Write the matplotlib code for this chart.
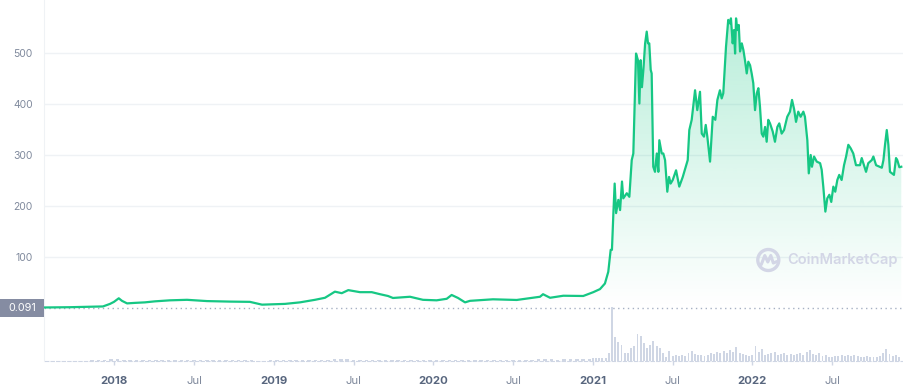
import numpy as np
import matplotlib.pyplot as plt
from matplotlib.patches import Rectangle, Circle, Polygon
from matplotlib.lines import Line2D
from matplotlib.transforms import blended_transform_factory

plt.rcParams['font.family'] = ['Inter', 'DejaVu Sans']

# price, x in decimal years
price_t = [2017.566, 2017.72, 2017.929, 2017.973, 2017.998, 2018.028, 2018.048, 2018.080,
           2018.130, 2018.192, 2018.255, 2018.349, 2018.456, 2018.581, 2018.725, 2018.850,
           2018.926, 2019.070, 2019.164, 2019.258, 2019.321, 2019.383, 2019.426, 2019.467,
           2019.540, 2019.614, 2019.666, 2019.716, 2019.747, 2019.854, 2019.935, 2020.021,
           2020.084, 2020.115, 2020.155, 2020.199, 2020.230, 2020.374, 2020.523, 2020.669,
           2020.688, 2020.732, 2020.815, 2020.940, 2021.003, 2021.045, 2021.076, 2021.097,
           2021.112, 2021.120, 2021.129, 2021.137, 2021.146, 2021.160, 2021.171, 2021.183,
           2021.191, 2021.213, 2021.229, 2021.244, 2021.254, 2021.271, 2021.283, 2021.292,
           2021.300, 2021.308, 2021.317, 2021.328, 2021.338, 2021.346, 2021.354, 2021.363,
           2021.369, 2021.379, 2021.390, 2021.401, 2021.411, 2021.417, 2021.432, 2021.442,
           2021.453, 2021.467, 2021.478, 2021.488, 2021.501, 2021.522, 2021.542, 2021.564,
           2021.595, 2021.605, 2021.620, 2021.641, 2021.655, 2021.672, 2021.683, 2021.697,
           2021.708, 2021.718, 2021.735, 2021.752, 2021.768, 2021.781, 2021.797, 2021.808,
           2021.818, 2021.835, 2021.849, 2021.860, 2021.866, 2021.877, 2021.885, 2021.892,
           2021.898, 2021.906, 2021.915, 2021.923, 2021.934, 2021.944, 2021.954, 2021.965,
           2021.975, 2021.986, 2021.996, 2022.006, 2022.017, 2022.028, 2022.038, 2022.048,
           2022.059, 2022.069, 2022.080, 2022.090, 2022.100, 2022.111, 2022.128, 2022.142,
           2022.157, 2022.169, 2022.184, 2022.199, 2022.219, 2022.236, 2022.249, 2022.262,
           2022.274, 2022.288, 2022.303, 2022.320, 2022.330, 2022.345, 2022.354, 2022.366,
           2022.374, 2022.387, 2022.404, 2022.425, 2022.435, 2022.445, 2022.458, 2022.470,
           2022.483, 2022.495, 2022.508, 2022.520, 2022.533, 2022.545, 2022.560, 2022.575,
           2022.588, 2022.602, 2022.617, 2022.633, 2022.650, 2022.675, 2022.686, 2022.700,
           2022.713, 2022.727, 2022.749, 2022.759, 2022.776, 2022.797, 2022.812, 2022.822,
           2022.832, 2022.843, 2022.853, 2022.863, 2022.876, 2022.888, 2022.901, 2022.909,
           2022.922, 2022.934]
price_v = [1, 1.5, 3, 8, 12, 19, 14, 9,
           10, 11, 13, 15, 16, 13.5, 12.5, 12,
           6.5, 8, 11, 16, 20, 32, 29, 35,
           31, 31, 27, 23.5, 19.6, 22, 16, 15,
           18, 25.5, 19.6, 11, 14, 17, 15.7, 22,
           27, 20, 24, 23.5, 31, 37, 48, 71,
           114, 114, 186, 244, 186, 212, 192, 248,
           215, 225, 218, 290, 303, 499, 486, 401,
           486, 433, 467, 519, 542, 519, 519, 467,
           460, 277, 267, 303, 267, 329, 303, 303,
           290, 228, 257, 244, 251, 270, 238, 257,
           290, 349, 369, 427, 388, 424, 342, 336,
           359, 336, 287, 375, 369, 408, 427, 411,
           421, 512, 565, 558, 568, 519, 545, 499,
           568, 545, 555, 503, 519, 506, 486, 460,
           483, 476, 460, 441, 388, 421, 431, 395,
           342, 336, 355, 326, 369, 362, 346, 326,
           355, 362, 342, 349, 375, 385, 408, 390,
           365, 385, 375, 385, 375, 329, 264, 300,
           277, 297, 287, 284, 271, 238, 189, 215,
           222, 208, 238, 228, 251, 261, 251, 280,
           297, 320, 313, 303, 280, 280, 294, 280,
           267, 284, 290, 297, 280, 277, 275, 290,
           320, 349, 320, 267, 264, 261, 294, 290,
           276, 277]

# volume (relative), early bars every 0.04 yr from 2017.58, late every 0.02 yr from 2021.00
vol_early = [0.4, 0.4, 0.4, 0.4, 0.4, 0.5, 0.5, 0.6, 0.8, 1.0,
             1.6, 2.2, 1.4,
             1.0, 0.9, 0.9, 0.8, 0.8, 0.8, 0.8, 0.7, 0.7, 0.7, 0.7, 0.6, 0.6, 0.6, 0.6, 0.6,
             0.7, 0.6, 0.6, 0.6, 0.5, 0.5, 0.6,
             0.6, 0.6, 0.7, 0.8, 0.9, 1.0, 1.2, 1.4, 1.5, 1.6, 1.8, 1.6, 1.5, 1.4, 1.2, 1.1,
             1.0, 1.0, 0.9, 0.9, 0.9, 0.8, 0.8, 0.9, 0.9,
             1.0, 1.1, 1.2, 1.3, 1.2, 1.0, 0.9, 0.9, 0.9, 1.0, 1.0, 1.0, 1.1, 1.2, 1.3, 1.5,
             1.7, 1.8, 1.6, 1.5, 1.6, 1.7, 1.8, 2.0, 2.2]
vol_late = [3, 3, 3, 3, 3, 8, 55, 24, 19, 16,
            8, 8, 13, 15, 27, 25, 18, 13, 16, 20,
            15, 13, 8, 4, 10, 5, 6, 5, 6, 5,
            8, 10, 7, 6, 6, 5, 6, 8, 7, 9,
            8, 10, 8, 11, 9, 14, 8, 7, 6, 5,
            6, 15, 9, 12, 6, 7, 8, 9, 6, 7,
            8, 6, 7, 6, 7, 8, 6, 9, 11, 7,
            6, 8, 5, 6, 4, 4, 5, 5, 6, 5,
            6, 5, 6, 5, 4, 4, 5, 4, 4, 4,
            5, 8, 12, 7, 5, 6, 4]

tick_pos = [2018, 2018.5, 2019, 2019.5, 2020, 2020.5, 2021, 2021.5, 2022, 2022.5]
tick_lab = ['2018', 'Jul', '2019', 'Jul', '2020', 'Jul', '2021', 'Jul', '2022', 'Jul']
y_ticks = [100, 200, 300, 400, 500]
min_price = 0.091

green = '#16c784'
W, H = 904, 388
fig = plt.figure(figsize=(W / 100, H / 100), dpi=100)
ax = fig.add_axes([44.5 / W, (H - 361) / H, (W - 44.5) / W, 361 / H])
x0, x1 = 2017.5624, 2022.951
ax.set_xlim(x0, x1)
ax.set_ylim(-104, 604)

# gradient fill under the line
verts = list(zip(price_t, price_v)) + [(price_t[-1], 0), (price_t[0], 0)]
clip = Polygon(verts, closed=True, facecolor='none', edgecolor='none')
ax.add_patch(clip)
top = max(price_v)
grad = np.zeros((256, 1, 4))
grad[:, 0, :3] = np.array([22, 199, 132]) / 255
grad[:, 0, 3] = np.linspace(0.0, 0.3, 256)
im = ax.imshow(grad, extent=[x0, x1, 0, top], origin='lower', aspect='auto', zorder=1)
im.set_clip_path(clip)

ax.plot(price_t, price_v, color=green, lw=1.6, solid_joinstyle='round', zorder=3)

# grid and reference lines
for yv in y_ticks:
    ax.axhline(yv, color='#eff2f5', lw=1, zorder=0)
ax.axhline(min_price, color='#a6b0c3', lw=1, ls=(0, (1, 2.5)), zorder=2)

ax.set_yticks(y_ticks)
ax.set_yticklabels([str(v) for v in y_ticks], color='#808a9d', fontsize=7.5)
ax.tick_params(axis='y', length=0, pad=8.5)
ax.set_xticks(tick_pos)
ax.set_xticklabels(tick_lab, fontsize=8.2)
ax.tick_params(axis='x', length=3, width=1, color='#cfd6e4', pad=8)
for lab in ax.get_xticklabels():
    if lab.get_text() == 'Jul':
        lab.set_color('#808a9d')
    else:
        lab.set_color('#58667e')
        lab.set_fontweight('bold')

for s in ['top', 'right']:
    ax.spines[s].set_visible(False)
ax.spines['left'].set_color('#eff2f5')
ax.spines['bottom'].set_color('#cfd6e4')
ax.spines['bottom'].set_linestyle((0, (3, 2)))

# min price badge
tr = blended_transform_factory(ax.transAxes, ax.transData)
bw = 44.5 / (W - 44.5)
ax.add_patch(Rectangle((-bw, min_price - 18), bw, 36, transform=tr, clip_on=False,
                       facecolor='#858ca2', edgecolor='none', zorder=5))
ax.text(-bw / 2, min_price, str(min_price), transform=tr, ha='center', va='center',
        color='white', fontsize=7.8, zorder=6, clip_on=False)

# volume bars
ax2 = ax.twinx()
t_early = 2017.58 + 0.04 * np.arange(len(vol_early))
t_late = 2021.0 + 0.02 * np.arange(len(vol_late))
ax2.bar(t_early, vol_early, width=0.022, color='#cfd6e4', linewidth=0)
ax2.bar(t_late, vol_late, width=0.012, color='#cfd6e4', linewidth=0)
ax2.set_ylim(0, max(vol_late) * 361 / 54)
ax2.set_xlim(x0, x1)
ax2.axis('off')

# watermark
wm = '#d3d6e6'
cx, cy = 768.3 / 100, (H - 260) / 100
fig.patches.append(Circle((cx, cy), 0.105, transform=fig.dpi_scale_trans, fill=False,
                          edgecolor=wm, lw=2.4, zorder=10))
fig.lines.append(Line2D([cx - 0.07, cx - 0.035, cx - 0.005, cx + 0.025, cx + 0.05, cx + 0.1],
                        [cy - 0.045, cy + 0.045, cy - 0.02, cy + 0.045, cy - 0.03, cy - 0.01],
                        transform=fig.dpi_scale_trans, color=wm, lw=2.2,
                        solid_joinstyle='round', solid_capstyle='round', zorder=10))
fig.text(787 / W, (H - 260) / H, 'CoinMarketCap', color=wm, fontsize=10.5,
         fontweight='semibold', ha='left', va='center', zorder=10)

fig.savefig('out.png', dpi=100)
